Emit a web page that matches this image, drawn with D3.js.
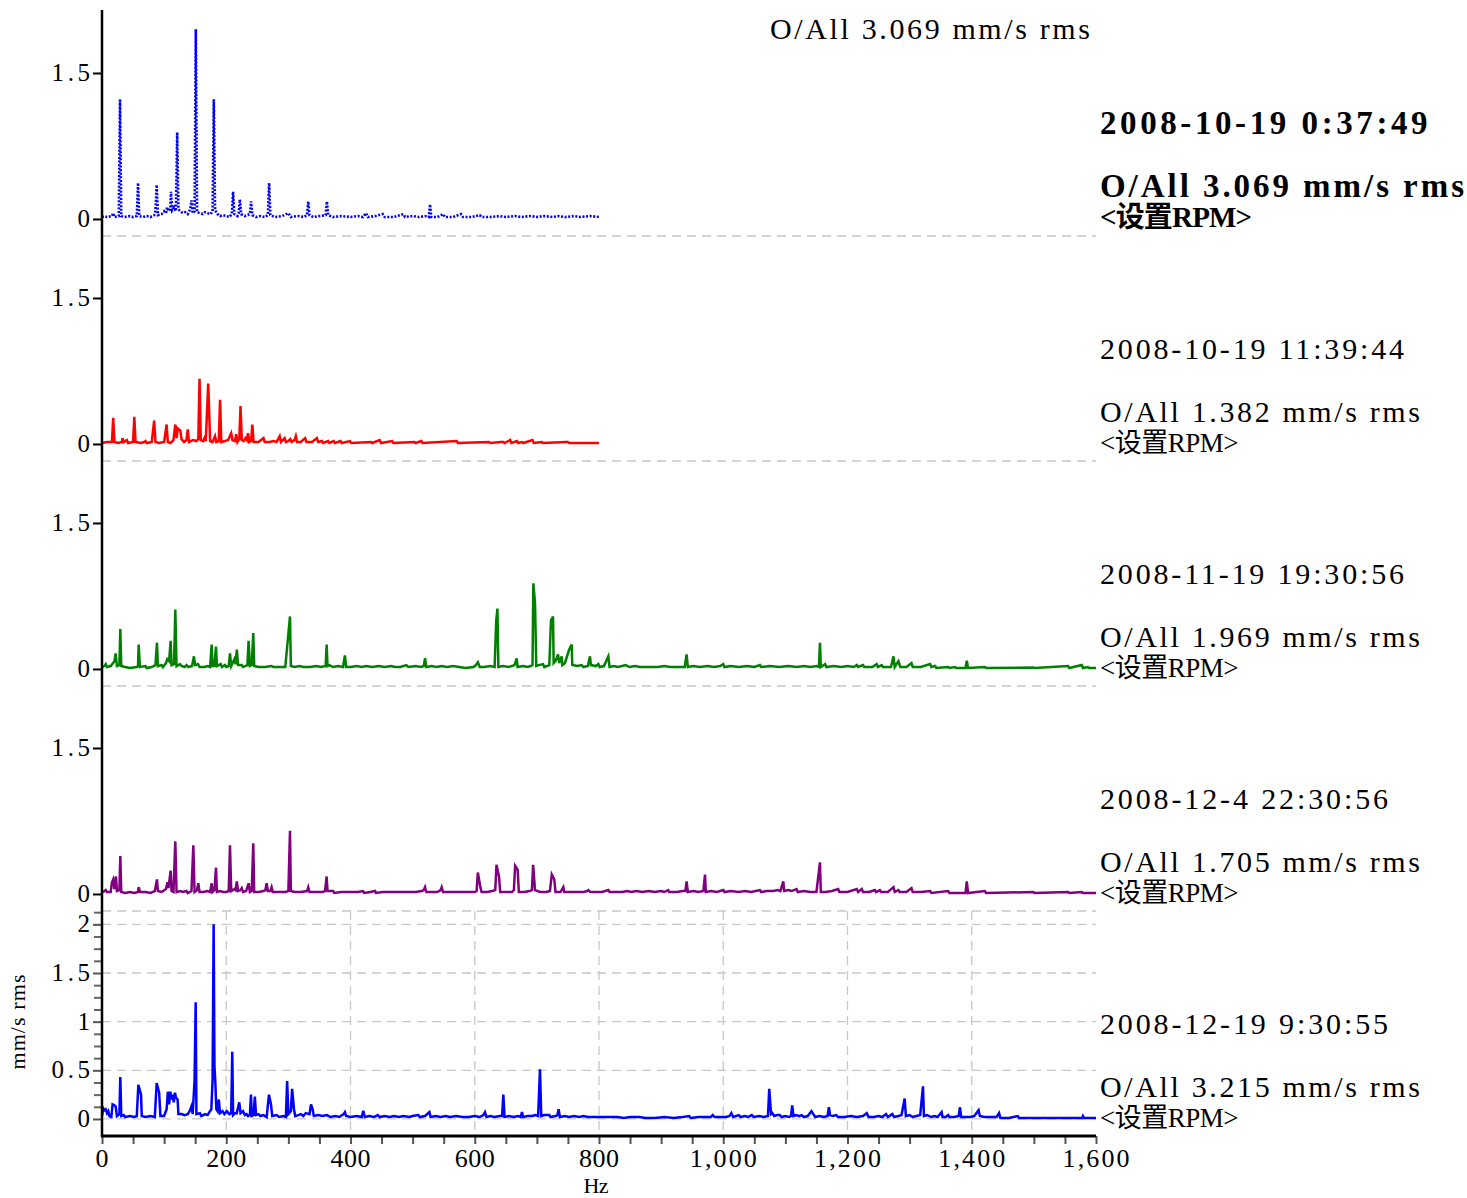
<!DOCTYPE html>
<html><head><meta charset="utf-8">
<script src="https://cdn.jsdelivr.net/npm/d3@7/dist/d3.min.js"></script>
<style>body{margin:0;background:#fff}</style>
</head><body>
<svg id="chart" width="1467" height="1198"></svg>
<script>
// ---------- data ----------
const panelDates = ["2008-10-19 0:37:49","2008-10-19 11:39:44","2008-11-19 19:30:56","2008-12-4 22:30:56","2008-12-19 9:30:55"];
const panelOverall = ["O/All 3.069 mm/s rms","O/All 1.382 mm/s rms","O/All 1.969 mm/s rms","O/All 1.705 mm/s rms","O/All 3.215 mm/s rms"];
const rpmLabel = "<设置RPM>";
const topOverall = "O/All 3.069 mm/s rms";
const panelMaxHz = [800, 800, 1600, 1600, 1600];
const xTicks = [0,200,400,600,800,1000,1200,1400,1600];
const yTicksUpper = [0, 1.5];
const yTicksLower = [0, 0.5, 1, 1.5, 2];
const xLabel = "Hz";
const yLabel = "mm/s rms";

// spectra: [Hz, mm/s rms]
const spectrum1 = [[0,0.02],[4,0.03],[8,0.02],[16,0.03],[18,0.06],[20,0.02],[27,0.03],[29,1.23],[31,0.03],[36,0.02],[45,0.03],[50,0.02],[56,0.03],[58,0.37],[60,0.03],[66,0.02],[72,0.03],[78,0.02],[84,0.04],[86,0.08],[88,0.35],[90,0.04],[96,0.05],[100,0.08],[103,0.06],[105,0.12],[107,0.08],[110,0.1],[111,0.28],[113,0.09],[116,0.12],[119,0.08],[121,0.89],[123,0.1],[126,0.08],[130,0.06],[134,0.07],[138,0.05],[142,0.1],[144,0.19],[146,0.06],[149,0.08],[151,1.95],[153,0.07],[157,0.06],[162,0.05],[166,0.07],[170,0.06],[175,0.05],[178,0.08],[180,1.23],[182,0.09],[186,0.05],[190,0.03],[195,0.04],[200,0.03],[205,0.02],[209,0.05],[211,0.28],[213,0.05],[218,0.03],[220,0.06],[222,0.2],[224,0.05],[230,0.03],[238,0.05],[240,0.18],[242,0.04],[248,0.02],[255,0.03],[262,0.02],[267,0.04],[269,0.37],[271,0.04],[278,0.02],[290,0.03],[300,0.06],[304,0.02],[315,0.03],[325,0.02],[330,0.04],[332,0.18],[334,0.04],[340,0.02],[350,0.03],[360,0.04],[362,0.18],[364,0.04],[372,0.02],[385,0.03],[400,0.02],[412,0.03],[420,0.02],[425,0.06],[428,0.02],[440,0.03],[452,0.05],[455,0.02],[470,0.02],[485,0.05],[488,0.02],[500,0.03],[510,0.02],[520,0.03],[526,0.02],[528,0.15],[530,0.02],[540,0.02],[549,0.05],[552,0.02],[565,0.02],[578,0.05],[581,0.02],[595,0.02],[608,0.04],[611,0.02],[625,0.02],[640,0.03],[650,0.02],[665,0.03],[675,0.02],[690,0.03],[700,0.02],[712,0.03],[725,0.02],[735,0.03],[745,0.02],[760,0.03],[770,0.02],[785,0.03],[800,0.02]];

const spectrum2 = [[0,0.01],[8,0.02],[16,0.02],[18,0.27],[20,0.02],[26,0.01],[32,0.02],[33,0.06],[35,0.02],[40,0.04],[42,0.01],[50,0.02],[52,0.28],[54,0.02],[62,0.01],[68,0.02],[70,0.03],[72,0.01],[80,0.02],[84,0.24],[86,0.02],[92,0.01],[100,0.02],[104,0.2],[106,0.02],[110,0.01],[115,0.04],[118,0.2],[120,0.06],[122,0.16],[124,0.15],[126,0.14],[128,0.05],[132,0.02],[136,0.04],[138,0.15],[140,0.02],[146,0.04],[152,0.03],[155,0.05],[157,0.67],[159,0.04],[163,0.03],[165,0.06],[167,0.03],[171,0.62],[174,0.03],[178,0.02],[182,0.08],[184,0.02],[188,0.03],[190,0.455],[192,0.02],[198,0.03],[203,0.04],[208,0.11],[210,0.04],[214,0.03],[216,0.1],[218,0.02],[221,0.05],[223,0.39],[225,0.04],[228,0.03],[231,0.06],[233,0.04],[235,0.11],[237,0.02],[240,0.03],[242,0.2],[244,0.02],[252,0.02],[260,0.06],[262,0.02],[270,0.02],[276,0.03],[281,0.02],[286,0.08],[288,0.02],[294,0.06],[296,0.02],[300,0.03],[303,0.05],[305,0.02],[310,0.04],[312,0.08],[314,0.02],[320,0.02],[327,0.06],[329,0.02],[338,0.02],[346,0.06],[348,0.02],[354,0.03],[356,0.01],[364,0.03],[366,0.01],[373,0.03],[375,0.01],[384,0.03],[386,0.01],[399,0.03],[401,0.01],[433,0.02],[435,0.01],[447,0.04],[449,0.01],[467,0.03],[469,0.01],[503,0.02],[505,0.01],[514,0.03],[516,0.01],[571,0.03],[573,0.01],[623,0.02],[625,0.01],[642,0.02],[646,0.02],[648,0.01],[657,0.04],[659,0.01],[668,0.03],[670,0.01],[676,0.02],[678,0.01],[693,0.04],[695,0.01],[708,0.02],[710,0.01],[747,0.02],[750,0.02],[752,0.01],[800,0.01]];

const spectrum3 = [[0,0.02],[4,0.03],[6,0.05],[8,0.02],[14,0.03],[20,0.08],[22,0.16],[24,0.03],[28,0.04],[29.5,0.41],[31,0.03],[37,0.02],[45,0.01],[56,0.02],[58,0.03],[59,0.25],[61,0.02],[70,0.03],[72,0.01],[80,0.02],[86,0.04],[88.5,0.27],[90,0.03],[96,0.04],[98,0.02],[103,0.06],[105,0.1],[108,0.08],[110.5,0.29],[112,0.04],[116,0.05],[118,0.61],[120,0.03],[125.6,0.05],[128,0.03],[133,0.02],[136,0.04],[139,0.02],[145,0.03],[148,0.13],[150,0.04],[154.5,0.05],[157,0.02],[165,0.02],[170,0.03],[174,0.02],[176.5,0.25],[178,0.03],[181,0.03],[183.5,0.23],[185,0.03],[191,0.05],[193,0.02],[198,0.04],[200,0.02],[204,0.03],[206,0.16],[208,0.03],[213,0.1],[215,0.05],[217,0.2],[219,0.04],[225,0.04],[227,0.02],[234,0.04],[236,0.29],[238,0.03],[241,0.04],[243.5,0.37],[245,0.03],[252,0.02],[262,0.02],[273,0.03],[276,0.02],[285,0.02],[295,0.02],[302.6,0.54],[304,0.03],[310,0.02],[318,0.03],[324,0.02],[335,0.02],[345,0.03],[352,0.02],[360,0.03],[361.6,0.25],[363,0.03],[366,0.04],[372,0.02],[380,0.03],[388,0.02],[391,0.14],[393,0.02],[400,0.02],[410,0.03],[418,0.02],[425,0.03],[435,0.02],[445,0.03],[455,0.02],[465,0.03],[472,0.02],[480,0.02],[490,0.04],[493,0.02],[505,0.03],[513,0.02],[518,0.03],[520,0.11],[522,0.02],[530.7,0.03],[538,0.02],[546.8,0.03],[555,0.02],[565,0.03],[575,0.02],[585,0.01],[598,0.02],[602,0.04],[605,0.07],[608,0.02],[615,0.02],[625,0.03],[632,0.02],[634.5,0.49],[636.5,0.62],[638,0.02],[645,0.03],[655,0.02],[664,0.04],[667.5,0.11],[669,0.02],[678,0.03],[685,0.02],[690,0.03],[693,0.04],[694.3,0.88],[697,0.68],[699,0.03],[703,0.04],[710,0.05],[712,0.02],[716,0.03],[720,0.04],[722.7,0.5],[724.5,0.52],[726,0.54],[727,0.06],[730,0.08],[734,0.15],[736,0.06],[740,0.13],[741,0.04],[745,0.06],[752,0.2],[756,0.25],[757,0.04],[765,0.03],[772,0.04],[775,0.02],[782,0.03],[785.5,0.13],[787,0.04],[795,0.03],[799,0.05],[801,0.02],[808,0.03],[815,0.13],[817,0.02],[824,0.03],[830,0.02],[837,0.03],[843,0.04],[849,0.02],[858,0.03],[866,0.02],[875,0.02],[885,0.02],[895,0.02],[905,0.03],[915,0.02],[925,0.02],[938,0.02],[941,0.15],[943,0.02],[952,0.03],[962,0.02],[975,0.03],[985,0.02],[995,0.03],[1000,0.05],[1002,0.02],[1012,0.03],[1025,0.02],[1038,0.03],[1050,0.02],[1059,0.04],[1061,0.02],[1075,0.03],[1090,0.02],[1105,0.03],[1118,0.02],[1130,0.03],[1140,0.02],[1150,0.03],[1154,0.02],[1155.7,0.27],[1157,0.02],[1164,0.05],[1166,0.02],[1178,0.03],[1190,0.02],[1200,0.03],[1210,0.02],[1215,0.04],[1217,0.02],[1225,0.04],[1227,0.02],[1240,0.02],[1247,0.05],[1249,0.02],[1255,0.04],[1257,0.02],[1270,0.02],[1274,0.13],[1276,0.02],[1282,0.08],[1285,0.02],[1295,0.02],[1303,0.06],[1305,0.02],[1318,0.02],[1333,0.05],[1335,0.02],[1341,0.03],[1343,0.01],[1362,0.02],[1364,0.01],[1373,0.02],[1375,0.01],[1390,0.01],[1392,0.085],[1394,0.01],[1421,0.02],[1423,0.01],[1499,0.015],[1501,0.01],[1555,0.03],[1557,0.01],[1577,0.04],[1579,0.01],[1587,0.02],[1589,0.01],[1600,0.01]];

const spectrum4 = [[0,0.02],[4,0.03],[6,0.04],[8,0.02],[14,0.02],[16,0.12],[18,0.15],[20,0.05],[22.5,0.18],[24,0.03],[28,0.04],[29.5,0.39],[31,0.02],[37,0.01],[45,0.02],[52,0.01],[58,0.02],[59,0.07],[61,0.02],[70,0.02],[78,0.01],[85,0.03],[88.5,0.15],[90,0.03],[96,0.02],[103,0.05],[105.5,0.12],[107,0.06],[110.5,0.24],[112,0.03],[115,0.02],[118,0.54],[120,0.02],[126,0.03],[130,0.02],[136,0.03],[138,0.01],[144,0.03],[147,0.5],[149,0.02],[153,0.04],[155,0.11],[157,0.02],[163,0.02],[170,0.03],[174,0.02],[176.5,0.11],[178,0.02],[181,0.04],[183.5,0.27],[185,0.02],[190,0.03],[195,0.02],[200,0.02],[204,0.03],[206,0.5],[208,0.03],[213,0.05],[215,0.04],[217,0.13],[219,0.03],[223,0.04],[225,0.06],[227,0.02],[232,0.03],[236,0.11],[238,0.02],[241,0.03],[243.5,0.52],[245,0.02],[252,0.02],[260,0.03],[263,0.04],[265,0.11],[267,0.03],[271,0.03],[273,0.07],[275,0.02],[285,0.02],[295,0.02],[300,0.03],[302.6,0.65],[304,0.03],[310,0.02],[320,0.02],[330,0.03],[332,0.07],[334,0.02],[345,0.02],[355,0.02],[359,0.03],[361.6,0.18],[363,0.03],[372,0.03],[374,0.01],[385,0.02],[395,0.02],[405,0.02],[412,0.02],[420,0.03],[422,0.01],[432,0.02],[439.6,0.03],[441,0.01],[452,0.02],[462,0.02],[472,0.02],[482,0.02],[492,0.02],[505,0.02],[515,0.03],[518,0.04],[520,0.07],[522,0.02],[530,0.02],[540,0.02],[545,0.04],[546.8,0.07],[549,0.02],[560,0.02],[570,0.02],[580,0.02],[590,0.02],[600,0.02],[603,0.03],[605,0.22],[609,0.07],[611,0.02],[620,0.02],[628,0.03],[633,0.04],[635,0.3],[639,0.18],[641,0.02],[650,0.02],[660,0.02],[663,0.04],[665,0.29],[669,0.25],[671,0.02],[680,0.02],[688,0.03],[692,0.04],[694,0.3],[697,0.04],[705,0.02],[715,0.02],[721,0.03],[724,0.2],[728,0.15],[730,0.02],[738,0.02],[742.6,0.07],[744,0.02],[755,0.02],[765,0.02],[775,0.02],[781,0.03],[783,0.04],[786,0.02],[795,0.02],[805,0.02],[815,0.04],[817,0.02],[830,0.02],[838,0.02],[845,0.03],[852,0.02],[860,0.03],[870,0.02],[880,0.03],[890,0.02],[900,0.03],[905,0.02],[911.5,0.04],[913,0.02],[925,0.02],[935,0.03],[939,0.03],[941,0.13],[943,0.02],[952,0.03],[960,0.02],[968,0.03],[970.6,0.2],[972,0.02],[980,0.03],[990,0.02],[1000,0.04],[1002,0.02],[1012,0.03],[1025,0.02],[1035,0.03],[1045,0.02],[1059,0.04],[1061,0.02],[1070,0.03],[1080,0.03],[1088,0.04],[1092,0.03],[1096.7,0.13],[1098,0.03],[1105,0.04],[1110,0.03],[1118,0.05],[1120,0.02],[1130,0.03],[1140,0.02],[1150,0.02],[1155.7,0.325],[1157,0.02],[1165,0.02],[1175,0.03],[1185,0.05],[1187,0.02],[1200,0.02],[1215,0.05],[1217,0.02],[1223,0.05],[1225,0.02],[1235,0.02],[1244,0.04],[1246,0.02],[1252,0.04],[1254,0.02],[1265,0.02],[1274,0.07],[1276,0.02],[1282,0.04],[1284,0.02],[1295,0.02],[1303,0.06],[1305,0.02],[1318,0.02],[1333,0.03],[1335,0.01],[1362,0.03],[1364,0.01],[1390,0.01],[1392,0.13],[1394,0.01],[1421,0.03],[1423,0.01],[1499,0.02],[1501,0.01],[1555,0.02],[1557,0.01],[1577,0.02],[1579,0.01],[1600,0.01]];

const spectrum5 = [[0,0.03],[2,0.11],[4,0.09],[6,0.1],[8,0.06],[10,0.08],[12,0.03],[15,0.02],[17,0.15],[20,0.14],[22,0.13],[24,0.03],[28,0.05],[29.5,0.43],[31,0.03],[35,0.04],[37,0.02],[45,0.03],[52,0.02],[56,0.03],[58.5,0.35],[62.8,0.25],[64,0.03],[70,0.02],[78,0.03],[85,0.02],[88,0.37],[92,0.27],[94,0.03],[100,0.03],[104,0.1],[106,0.28],[108,0.15],[110,0.28],[112,0.2],[113.8,0.25],[115.5,0.17],[117.5,0.27],[119,0.22],[121.7,0.2],[123,0.05],[128,0.05],[133,0.04],[138,0.05],[141,0.08],[144,0.13],[146,0.05],[149,0.4],[150.8,1.2],[152,0.05],[157.7,0.06],[160,0.03],[166,0.05],[170,0.04],[173.8,0.08],[176,0.1],[178,0.4],[179.7,2.0],[181,0.55],[182.5,0.37],[184,0.1],[186,0.08],[188,0.2],[190,0.06],[194,0.08],[197,0.05],[201,0.08],[205,0.05],[208,0.06],[209.7,0.69],[211,0.04],[214,0.06],[217,0.06],[219,0.12],[221,0.17],[223,0.06],[227,0.08],[230,0.04],[232.8,0.05],[235,0.03],[238,0.04],[239.8,0.25],[241,0.03],[244,0.04],[246,0.23],[248,0.04],[252,0.05],[255,0.03],[260,0.04],[265,0.02],[268.8,0.25],[272,0.15],[274,0.03],[281,0.04],[285,0.02],[292,0.03],[296,0.02],[298,0.39],[300,0.05],[304,0.08],[306,0.31],[309,0.1],[311,0.03],[316,0.04],[320,0.05],[324,0.03],[328,0.06],[334,0.05],[336.4,0.15],[339,0.1],[341,0.03],[348,0.04],[355,0.03],[362,0.04],[368,0.02],[375,0.03],[382,0.02],[389,0.05],[391,0.07],[393,0.03],[400,0.02],[410,0.03],[418,0.02],[420.6,0.085],[423,0.02],[430,0.03],[438,0.02],[444,0.04],[447,0.02],[455,0.03],[463,0.02],[470,0.03],[478,0.02],[485,0.03],[495,0.02],[500,0.03],[509,0.04],[512,0.02],[520,0.03],[527,0.07],[529,0.02],[537,0.03],[545,0.02],[553,0.03],[560,0.02],[570,0.03],[580,0.02],[590,0.02],[600,0.03],[608,0.02],[614,0.04],[616.5,0.07],[619,0.02],[625,0.03],[632,0.02],[640,0.03],[644,0.03],[646,0.25],[648,0.02],[655,0.03],[662,0.02],[670,0.03],[674,0.02],[676,0.07],[678,0.02],[685,0.03],[692,0.03],[698,0.04],[702,0.03],[705,0.51],[707,0.03],[712,0.04],[720,0.04],[722,0.02],[730,0.03],[733,0.04],[735,0.1],[737,0.02],[745,0.03],[752,0.02],[760,0.03],[768,0.02],[775,0.03],[782,0.02],[790,0.02],[800,0.02],[810,0.02],[820,0.02],[830,0.02],[840,0.01],[850,0.02],[865,0.02],[875,0.01],[890,0.01],[905,0.02],[920,0.01],[935,0.02],[945,0.03],[948,0.01],[960,0.02],[970,0.02],[980,0.02],[983,0.04],[986,0.02],[995,0.02],[1005,0.02],[1010,0.03],[1013,0.06],[1016,0.02],[1025,0.04],[1028,0.02],[1035,0.03],[1040,0.02],[1046,0.04],[1049,0.02],[1058,0.03],[1065,0.02],[1072,0.03],[1074,0.31],[1077,0.05],[1079,0.06],[1082,0.03],[1087,0.04],[1091,0.04],[1094,0.02],[1100,0.03],[1106,0.02],[1109,0.03],[1111,0.14],[1113,0.03],[1118,0.04],[1122,0.03],[1126,0.04],[1130,0.02],[1136,0.03],[1142,0.08],[1145,0.05],[1148,0.02],[1155,0.03],[1162,0.02],[1168,0.03],[1170,0.12],[1172,0.04],[1176,0.03],[1182,0.04],[1185,0.02],[1195,0.02],[1205,0.03],[1215,0.02],[1225,0.03],[1231,0.06],[1234,0.02],[1242,0.02],[1250,0.03],[1256,0.02],[1262,0.05],[1265,0.02],[1272,0.05],[1275,0.02],[1282,0.03],[1287,0.04],[1292,0.21],[1294,0.03],[1300,0.04],[1305,0.02],[1311,0.03],[1317,0.04],[1321.5,0.335],[1323,0.03],[1328,0.04],[1335,0.02],[1340,0.03],[1345,0.02],[1351.5,0.07],[1353,0.02],[1358,0.02],[1362,0.04],[1364,0.02],[1372,0.02],[1379,0.03],[1381,0.12],[1383,0.02],[1390,0.02],[1398,0.02],[1404,0.03],[1411,0.09],[1413,0.03],[1420,0.02],[1430,0.02],[1440,0.02],[1444,0.06],[1446,0.01],[1460,0.01],[1474,0.03],[1476,0.01],[1578,0.01],[1579,0.03],[1581,0.01],[1600,0.01]];

const spectra = [spectrum1, spectrum2, spectrum3, spectrum4, spectrum5];
const panelColors = ["#0000ff", "#ff0000", "#008000", "#800080", "#0000ff"];

// ---------- layout ----------
const FONT = "'Liberation Serif','Noto Sans CJK SC',serif";
const svg = d3.select("#chart");
const left = 102, right = 1096, panelH = 225, firstTop = 11, axisBottom = 1136;
const x = d3.scaleLinear().domain([0, 1600]).range([left, right]);
const yDomain = [-0.175, 2.137];

// monospace-like cell width: CJK chars take two cells
function cells(str) {
  let n = 0;
  for (const ch of str) n += /[\u3000-\u9fff\uff00-\uffef]/.test(ch) ? 2 : 1;
  return n;
}
function label(g, px, py, str, size, cell, anchor, weight) {
  return g.append("text")
    .attr("x", px).attr("y", py)
    .attr("text-anchor", anchor || "start")
    .attr("font-family", FONT)
    .attr("font-size", size)
    .attr("font-weight", weight || "normal")
    .attr("fill", "#000")
    .attr("textLength", cells(str) * cell)
    .attr("lengthAdjust", "spacing")
    .text(str);
}

const gridColor = "#c8c8c8";
const dash = "9,6";

// panel separators
for (let i = 0; i < 4; i++) {
  const yb = firstTop + panelH * (i + 1);
  svg.append("line").attr("x1", left).attr("x2", right).attr("y1", yb).attr("y2", yb)
    .attr("stroke", gridColor).attr("stroke-width", 1.3).attr("stroke-dasharray", dash);
}

spectra.forEach((data, i) => {
  const top = firstTop + panelH * i;
  const y = d3.scaleLinear().domain(yDomain).range([top + panelH, top]);
  const g = svg.append("g");
  const last = i === 4;

  if (last) {
    g.selectAll(".vg").data(xTicks.filter(t => t > 0 && t < 1600)).join("line")
      .attr("x1", d => x(d)).attr("x2", d => x(d)).attr("y1", top).attr("y2", axisBottom)
      .attr("stroke", gridColor).attr("stroke-width", 1.3).attr("stroke-dasharray", dash);
    g.selectAll(".hg").data(yTicksLower).join("line")
      .attr("x1", left).attr("x2", right).attr("y1", d => y(d)).attr("y2", d => y(d))
      .attr("stroke", gridColor).attr("stroke-width", 1.3).attr("stroke-dasharray", dash);
  }

  const line = d3.line().x(d => x(d[0])).y(d => y(d[1]));
  g.append("path").datum(data.filter(d => d[0] <= panelMaxHz[i]))
    .attr("d", line).attr("fill", "none")
    .attr("stroke", panelColors[i]).attr("stroke-width", i === 0 ? 2.6 : 2.5)
    .attr("stroke-dasharray", i === 0 ? "2,1.6" : null);

  // y axis ticks
  const ticks = last ? yTicksLower : yTicksUpper;
  const ag = g.append("g").attr("transform", `translate(${left},0)`)
    .call(d3.axisLeft(y).tickValues(ticks).tickSize(9).tickFormat(""));
  ag.select(".domain").remove();
  ag.selectAll(".tick line").attr("stroke", last ? "#555" : "#000").attr("stroke-width", 2);
  if (last) {
    const minor = d3.range(0, 2.13, 0.125).filter(v => ticks.indexOf(v) < 0);
    const mg = g.append("g").attr("transform", `translate(${left},0)`)
      .call(d3.axisLeft(y).tickValues(minor).tickSize(8).tickFormat(""));
    mg.select(".domain").remove();
    mg.selectAll(".tick line").attr("stroke", "#666").attr("stroke-width", 2);
  }
  ticks.forEach(t => label(g, left - 12, y(t) + 8, String(t), 25, 12.8, "end"));

  // right-side texts
  const bold = i === 0;
  const size = bold ? 33 : 30, cell = bold ? 18.2 : 16;
  const w = bold ? "bold" : "normal";
  label(g, 1100, top + 123, panelDates[i], size, cell, "start", w);
  label(g, 1100, top + 186, panelOverall[i], size, cell, "start", w);
  label(g, 1100, top + 216, rpmLabel, bold ? 29 : 27, bold ? 16.9 : 15.4, "start", w);
});

// left vertical axis line
svg.append("line").attr("x1", left).attr("x2", left).attr("y1", 10).attr("y2", axisBottom + 1)
  .attr("stroke", "#000").attr("stroke-width", 2.5);

// bottom x axis
const xMinor = d3.range(0, 1601, 50);
const xa = svg.append("g").attr("transform", `translate(0,${axisBottom})`)
  .call(d3.axisBottom(x).tickValues(xMinor).tickSize(8).tickFormat(""));
xa.select(".domain").remove();
xa.selectAll(".tick line").attr("stroke", "#555").attr("stroke-width", 2);
svg.append("line").attr("x1", left - 1).attr("x2", right).attr("y1", axisBottom).attr("y2", axisBottom)
  .attr("stroke", "#000").attr("stroke-width", 3);
const fmt = d3.format(",");
xTicks.forEach(t => label(svg, x(t), 1167, fmt(t), 26, 13.4, "middle"));

// axis titles
label(svg, 596, 1193, xLabel, 22, 12.5, "middle");
const yl = svg.append("g").attr("transform", "translate(25,1022) rotate(-90)");
label(yl, 0, 0, yLabel, 22, 11.9, "middle");

// top overall label
label(svg, 770, 39, topOverall, 30, 16, "start");
</script>
</body></html>
